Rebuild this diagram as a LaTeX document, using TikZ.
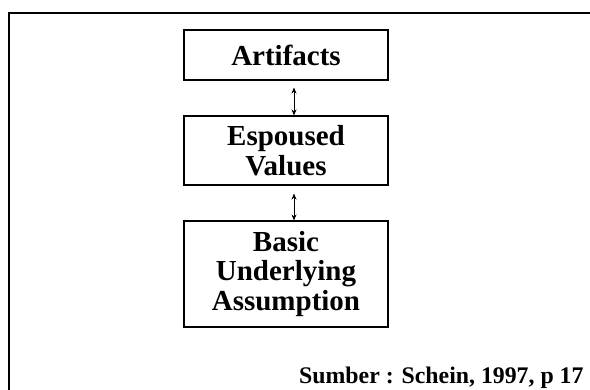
\documentclass[tikz,border=0pt]{standalone}
\usepackage{fontspec}
\setmainfont{Liberation Serif}
\usetikzlibrary{arrows.meta}
\begin{document}
\begin{tikzpicture}[x=1pt,y=-1pt,
  layer/.style={draw=black,line width=1.1pt,minimum width=204pt,inner sep=0pt,align=center,
    font=\bfseries\fontsize{29}{29.5}\selectfont},
  link/.style={line width=0.9pt,{Stealth[length=6pt,width=5pt]}-{Stealth[length=6pt,width=5pt]}}]
\clip (0,0) rectangle (590,390);
\fill[white] (0,0) rectangle (590,390);
\draw[line width=2pt] (9,400) -- (9,13) -- (600,13);
\node[layer,minimum height=50pt] (art) at (286,55) {Artifacts};
\node[layer,minimum height=69pt] (esp) at (286,150.5) {Espoused\\Values};
\node[layer,minimum height=106pt] (bas) at (286,274) {Basic\\Underlying\\Assumption};
\draw[link] ([xshift=8pt,yshift=-7pt]art.south) -- ([xshift=8pt]esp.north);
\draw[link] ([xshift=8pt,yshift=-8pt]esp.south) -- ([xshift=8pt]bas.north);
\node[anchor=base west,inner sep=0pt,font=\bfseries\fontsize{23.8}{28}\selectfont] (src) at (299,384) {Sumber : Schein, 1997, p 17};
\end{tikzpicture}
\end{document}
